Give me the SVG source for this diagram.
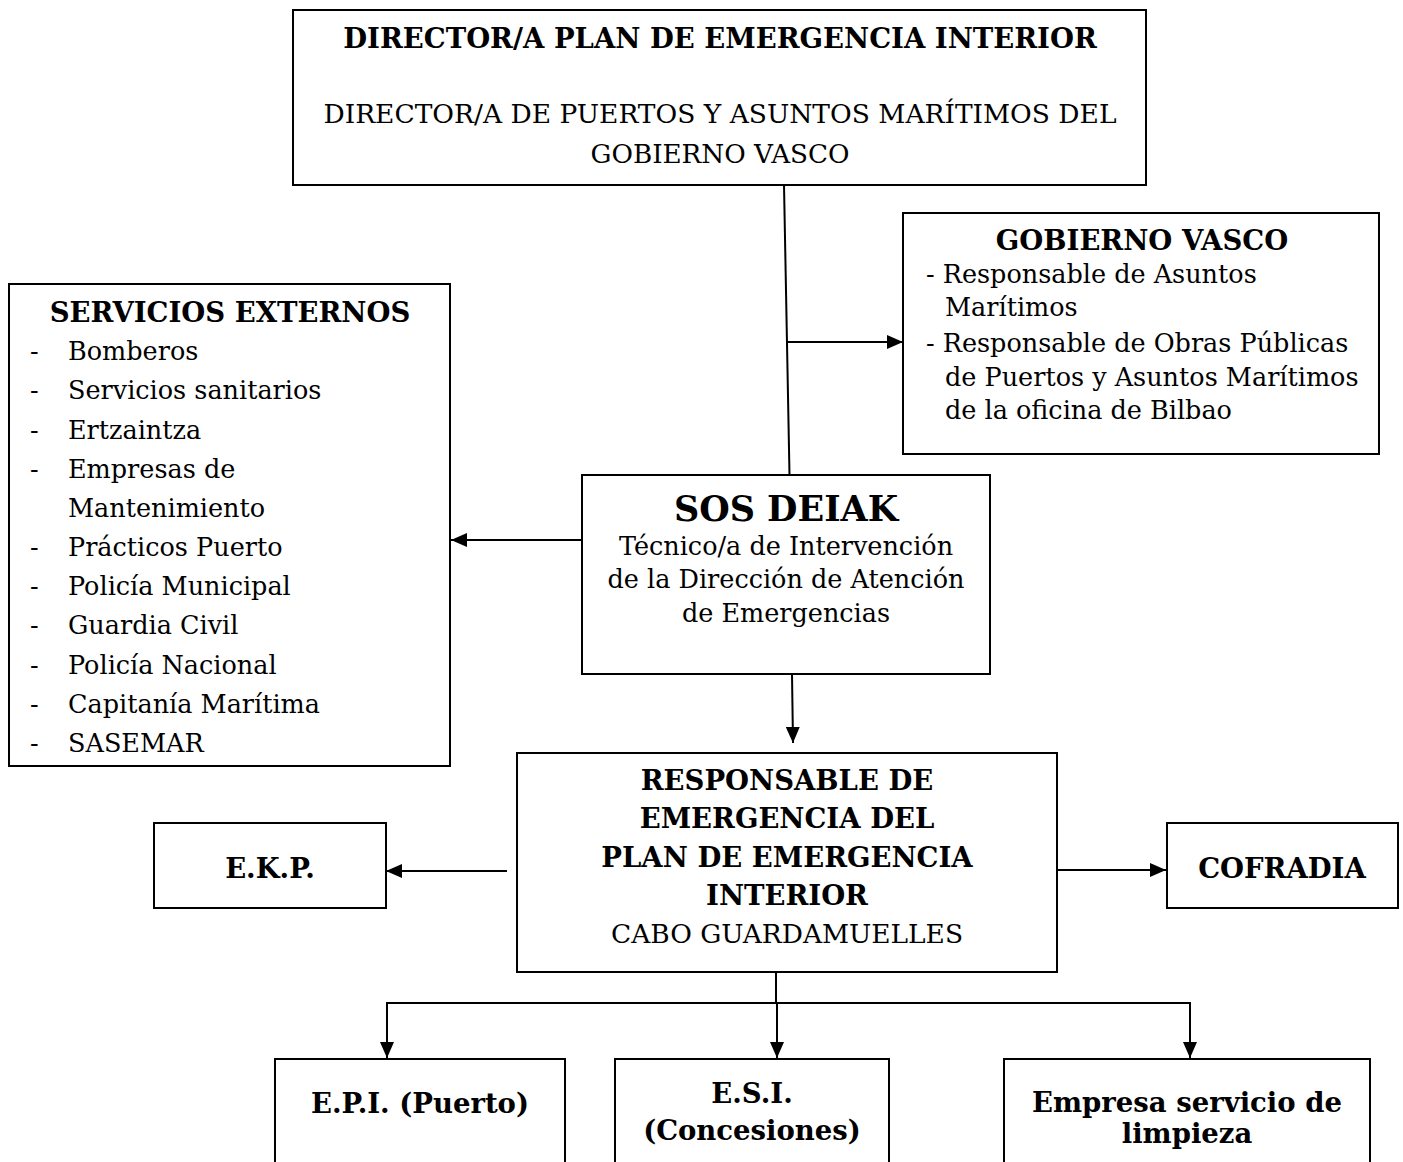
<svg xmlns="http://www.w3.org/2000/svg" width="1403" height="1162" viewBox="0 0 1403 1162">
<style>
.box{fill:#fff;stroke:#000;stroke-width:2}
.t{font-family:"DejaVu Serif","Liberation Serif",serif;font-size:25.5px;fill:#000}
.b{font-weight:bold;font-size:27.5px}
.c{text-anchor:middle}
.ln{stroke:#000;stroke-width:2;fill:none}
</style>
<defs>
<marker id="ah" markerUnits="userSpaceOnUse" markerWidth="16" markerHeight="14" refX="16" refY="7" orient="auto">
<path d="M0,0 L16,7 L0,14 Z" fill="#000"/>
</marker>
</defs>
<g id="connectors">
<line class="ln" x1="784" y1="185" x2="789.5" y2="475"/>
<line class="ln" x1="788" y1="342" x2="903" y2="342" marker-end="url(#ah)"/>
<line class="ln" x1="582" y1="540" x2="451" y2="540" marker-end="url(#ah)"/>
<line class="ln" x1="792" y1="674" x2="793" y2="743" marker-end="url(#ah)"/>
<line class="ln" x1="507" y1="871" x2="386" y2="871" marker-end="url(#ah)"/>
<line class="ln" x1="1058" y1="870" x2="1166" y2="870" marker-end="url(#ah)"/>
<line class="ln" x1="776" y1="972" x2="776" y2="1002"/>
<polyline class="ln" points="387,1058 387,1003 1190,1003 1190,1058"/>
<line class="ln" x1="387" y1="1040" x2="387" y2="1058" marker-end="url(#ah)"/>
<line class="ln" x1="777" y1="1002" x2="777" y2="1058" marker-end="url(#ah)"/>
<line class="ln" x1="1190" y1="1040" x2="1190" y2="1058" marker-end="url(#ah)"/>
</g>
<g id="director">
<rect class="box" x="293" y="10" width="853" height="175"/>
<text class="t b c" x="720" y="48">DIRECTOR/A PLAN DE EMERGENCIA INTERIOR</text>
<text class="t c" x="720" y="123" textLength="793" lengthAdjust="spacingAndGlyphs">DIRECTOR/A DE PUERTOS Y ASUNTOS MARÍTIMOS DEL</text>
<text class="t c" x="720" y="163" textLength="259" lengthAdjust="spacingAndGlyphs">GOBIERNO VASCO</text>
</g>
<g id="gobierno">
<rect class="box" x="903" y="213" width="476" height="241"/>
<text class="t b c" x="1142" y="250">GOBIERNO VASCO</text>
<text class="t" x="926" y="283">- Responsable de Asuntos</text>
<text class="t" x="945" y="316">Marítimos</text>
<text class="t" x="926" y="352">- Responsable de Obras Públicas</text>
<text class="t" x="945" y="386">de Puertos y Asuntos Marítimos</text>
<text class="t" x="945" y="419">de la oficina de Bilbao</text>
</g>
<g id="servicios">
<rect class="box" x="9" y="284" width="441" height="482"/>
<text class="t b c" x="230" y="322">SERVICIOS EXTERNOS</text>
<g class="t">
<text x="30" y="360">-</text><text x="68" y="360">Bomberos</text>
<text x="30" y="399">-</text><text x="68" y="399">Servicios sanitarios</text>
<text x="30" y="439">-</text><text x="68" y="439">Ertzaintza</text>
<text x="30" y="478">-</text><text x="68" y="478">Empresas de</text>
<text x="68" y="517">Mantenimiento</text>
<text x="30" y="556">-</text><text x="68" y="556">Prácticos Puerto</text>
<text x="30" y="595">-</text><text x="68" y="595">Policía Municipal</text>
<text x="30" y="634">-</text><text x="68" y="634">Guardia Civil</text>
<text x="30" y="674">-</text><text x="68" y="674">Policía Nacional</text>
<text x="30" y="713">-</text><text x="68" y="713">Capitanía Marítima</text>
<text x="30" y="752">-</text><text x="68" y="752">SASEMAR</text>
</g>
</g>
<g id="sosdeiak">
<rect class="box" x="582" y="475" width="408" height="199"/>
<text class="t b c" x="786" y="521" style="font-size:35px">SOS DEIAK</text>
<text class="t c" x="786" y="555">Técnico/a de Intervención</text>
<text class="t c" x="786" y="588">de la Dirección de Atención</text>
<text class="t c" x="786" y="622">de Emergencias</text>
</g>
<g id="responsable">
<rect class="box" x="517" y="753" width="540" height="219"/>
<text class="t b c" x="787" y="790">RESPONSABLE DE</text>
<text class="t b c" x="787" y="828">EMERGENCIA DEL</text>
<text class="t b c" x="787" y="867">PLAN DE EMERGENCIA</text>
<text class="t b c" x="787" y="905">INTERIOR</text>
<text class="t c" x="787" y="943" textLength="352" lengthAdjust="spacingAndGlyphs">CABO GUARDAMUELLES</text>
</g>
<g id="ekp">
<rect class="box" x="154" y="823" width="232" height="85"/>
<text class="t b c" x="270" y="878">E.K.P.</text>
</g>
<g id="cofradia">
<rect class="box" x="1167" y="823" width="231" height="85"/>
<text class="t b c" x="1282" y="878">COFRADIA</text>
</g>
<g id="epi">
<rect class="box" x="275" y="1059" width="290" height="120"/>
<text class="t b c" x="420" y="1113">E.P.I. (Puerto)</text>
</g>
<g id="esi">
<rect class="box" x="615" y="1059" width="274" height="120"/>
<text class="t b c" x="752" y="1103">E.S.I.</text>
<text class="t b c" x="752" y="1140">(Concesiones)</text>
</g>
<g id="empresa">
<rect class="box" x="1004" y="1059" width="366" height="120"/>
<text class="t b c" x="1187" y="1112">Empresa servicio de</text>
<text class="t b c" x="1187" y="1143">limpieza</text>
</g>
</svg>
